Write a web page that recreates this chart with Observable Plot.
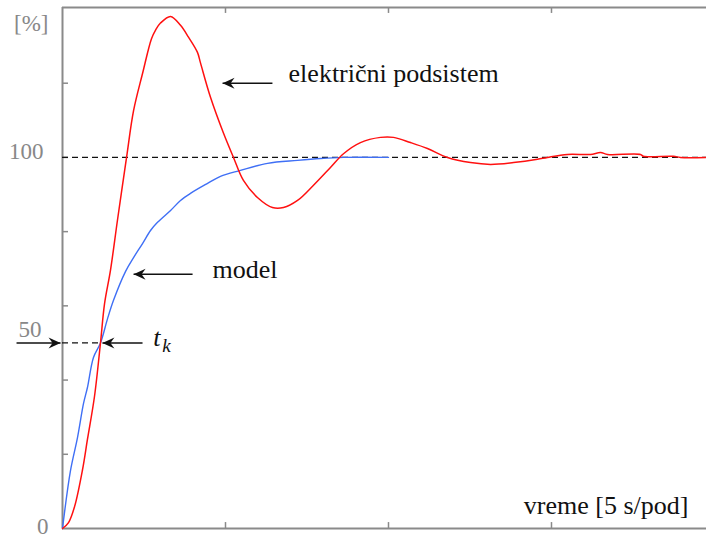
<!DOCTYPE html>
<html><head><meta charset="utf-8">
<script src="https://cdn.jsdelivr.net/npm/d3@7"></script>
<script src="https://cdn.jsdelivr.net/npm/@observablehq/plot@0.6"></script>
<style>
html,body{margin:0;padding:0;background:#fff}
#chart svg, #chart svg text{font-family:"Liberation Serif","Times New Roman",serif !important}
</style>
</head><body><div id="chart"></div>
<script>
// axis extents (time in "pod" units of 5 s, response in %)
const xMax = 3.951, yMax = 140.4;
const xTicks = [1, 2, 3];
const yTicks = [20, 40, 60, 80, 100, 120];

// električni podsistem (red)
const podsistem = [
  [0,0],[0.037,1.6],[0.074,5.9],[0.123,15.9],[0.153,24],[0.196,35.5],[0.233,50],[0.258,60.6],
  [0.294,69.5],[0.337,83],[0.393,100],[0.436,112.6],[0.491,122.6],[0.546,132],[0.571,134.3],
  [0.601,136.2],[0.663,138],[0.724,135.6],[0.773,132.4],[0.828,128.3],[0.847,125.4],[0.908,116.2],
  [0.988,106.5],[1.049,100],[1.110,93.8],[1.196,89.2],[1.288,86.5],[1.356,86.5],[1.442,88.4],
  [1.540,92.5],[1.644,97.3],[1.724,101],[1.828,104],[1.951,105.4],[2.031,105.4],[2.135,104],
  [2.239,102.4],[2.362,100],[2.503,98.6],[2.626,98.1],[2.767,98.6],[2.914,99.5],[2.975,100],
  [3.098,100.8],[3.239,100.8],[3.301,101.3],[3.344,100.8],[3.546,100.8],[3.564,100.3],
  [3.748,100.3],[3.791,100],[3.951,100]
];
// model (blue)
const model = [
  [0,0],[0.049,15.6],[0.092,24.5],[0.129,33.7],[0.153,38],[0.190,46.1],[0.233,50],[0.276,56.5],
  [0.313,61.5],[0.387,69.3],[0.436,73],[0.491,76.8],[0.540,80.3],[0.583,82.5],[0.663,85.7],
  [0.724,88.4],[0.785,90.3],[0.890,93],[0.969,94.9],[1.092,96.5],[1.258,98.4],[1.442,99.2],
  [1.583,99.7],[1.724,100],[2.0,100]
];

const steadyLevel = [100];
const tkLevel = [{y: 50, x1: 0, x2: 0.233}];

// annotation arrows (tail -> tip)
const arrows = [
  {x1: 1.288, y1: 120, x2: 0.982, y2: 120},
  {x1: 0.798, y1: 68.5, x2: 0.436, y2: 68.5},
  {x1: 0.491, y1: 50, x2: 0.245, y2: 50},
  {x1: -0.282, y1: 50, x2: -0.012, y2: 50}
];

const curveLabels = [
  {text: "električni podsistem", x: 1.387, y: 120.2},
  {text: "model", x: 0.920, y: 67.4}
];
const axisTitle = [{text: "vreme [5 s/pod]", x: 3.840, y: 4.0}];
const tLabel = [{text: "t", x: 0.556, y: 49.3}];
const kLabel = [{text: "k", x: 0.612, y: 47.6}];
const yLabels = [
  {text: "[%]", x: -0.086, y: 134.2},
  {text: "100", x: -0.117, y: 99.7},
  {text: "50", x: -0.129, y: 51.5},
  {text: "0", x: -0.086, y: -1.6}
];

const tickLenY = 1.6, tickLenX = 0.037;
const frameColor = "#8a8a8a";
const serif = "Liberation Serif";

const stealth = {
  draw(ctx, size) {
    const r = Math.sqrt(size / Math.PI);
    ctx.moveTo(0, 0);
    ctx.lineTo(-2.4 * r, -1.1 * r);
    ctx.lineTo(-1.6 * r, 0);
    ctx.lineTo(-2.4 * r, 1.1 * r);
    ctx.closePath();
  }
};

const chart = Plot.plot({
  width: 706, height: 539,
  marginLeft: 62, marginRight: 0, marginTop: 7, marginBottom: 11,
  x: {domain: [0, xMax], axis: null},
  y: {domain: [0, yMax], axis: null},
  style: {fontFamily: serif, background: "#fff", overflow: "visible"},
  marks: [
    Plot.ruleX([0], {stroke: frameColor, strokeWidth: 2}),
    Plot.ruleY([0, yMax], {stroke: frameColor, strokeWidth: 2}),
    Plot.ruleX(xTicks, {y1: 0, y2: tickLenY, stroke: frameColor, strokeWidth: 1.5}),
    Plot.ruleX(xTicks, {y1: yMax - tickLenY, y2: yMax, stroke: frameColor, strokeWidth: 1.5}),
    Plot.ruleY(yTicks, {x1: 0, x2: tickLenX, stroke: frameColor, strokeWidth: 1.5}),
    Plot.ruleY(steadyLevel, {x1: 0, x2: xMax, stroke: "#111", strokeWidth: 1.3, strokeDasharray: "6,4"}),
    Plot.ruleY(tkLevel, {y: "y", x1: "x1", x2: "x2", stroke: "#111", strokeWidth: 1.3, strokeDasharray: "6,4"}),
    Plot.line(model, {x: d => d[0], y: d => d[1], stroke: "#3f6ff5", strokeWidth: 1.4, curve: "catmull-rom"}),
    Plot.line(podsistem, {x: d => d[0], y: d => d[1], stroke: "#ff1010", strokeWidth: 1.5, curve: "catmull-rom"}),
    Plot.link(arrows, {x1: "x1", y1: "y1", x2: "x2", y2: "y2", stroke: "#111", strokeWidth: 1.6}),
    Plot.dot(arrows, {x: "x2", y: "y2", symbol: stealth, r: 5, fill: "#111", stroke: "none",
      rotate: d => d.x2 < d.x1 ? 180 : 0}),
    Plot.text(curveLabels, {x: "x", y: "y", text: "text", textAnchor: "start", lineAnchor: "bottom", fontSize: 26, fontFamily: serif, fill: "#111"}),
    Plot.text(axisTitle, {x: "x", y: "y", text: "text", textAnchor: "end", lineAnchor: "bottom", fontSize: 26, fontFamily: serif, fill: "#111"}),
    Plot.text(tLabel, {x: "x", y: "y", text: "text", textAnchor: "start", lineAnchor: "bottom", fontSize: 26, fontStyle: "italic", fontFamily: serif, fill: "#111"}),
    Plot.text(kLabel, {x: "x", y: "y", text: "text", textAnchor: "start", lineAnchor: "bottom", fontSize: 19, fontStyle: "italic", fontFamily: serif, fill: "#111"}),
    Plot.text(yLabels, {x: "x", y: "y", text: "text", textAnchor: "end", lineAnchor: "bottom", fontSize: 23, fontFamily: serif, fill: "#888"})
  ]
});
document.getElementById("chart").appendChild(chart);
</script>
</body></html>
